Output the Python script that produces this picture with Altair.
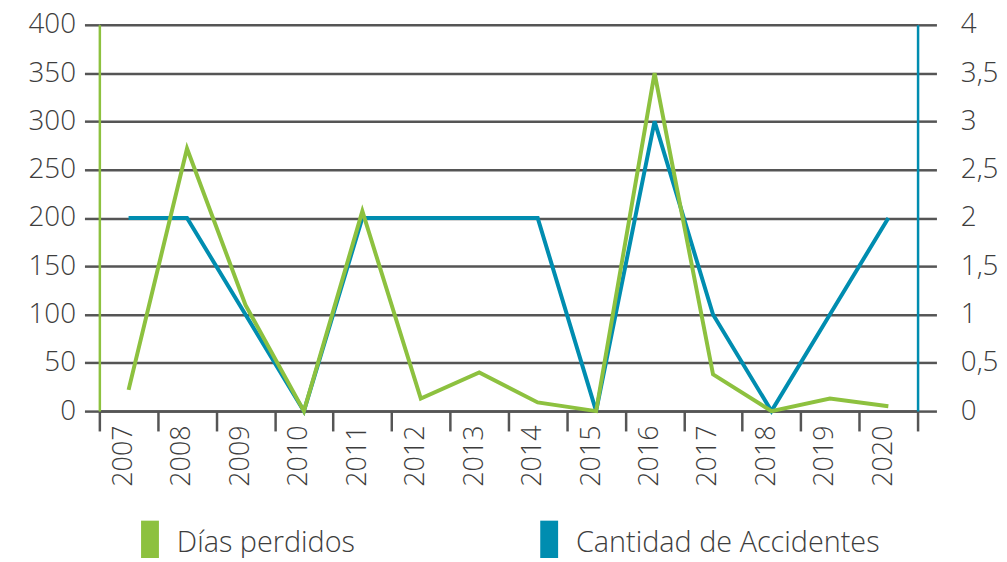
import altair as alt
import pandas as pd

years = ["2007", "2008", "2009", "2010", "2011", "2012", "2013",
         "2014", "2015", "2016", "2017", "2018", "2019", "2020"]
dias_perdidos = [22, 272, 110, 0, 207, 13, 40, 9, 0, 350, 38, 0, 13, 5]
accidentes = [2, 2, 1, 0, 2, 2, 2, 2, 0, 3, 1, 0, 1, 2]

left_ticks = [0, 50, 100, 150, 200, 250, 300, 350, 400]
right_ticks = [0, 0.5, 1, 1.5, 2, 2.5, 3, 3.5, 4]

series_names = ["Días perdidos", "Cantidad de Accidentes"]
GREEN = "#8DC13F"
BLUE = "#008DB0"
GRID = "#555555"
TEXT = "#3d3d3d"
FONT = "Open Sans"
WEIGHT = 300

df = pd.DataFrame({"year": years, "dias": dias_perdidos, "acc": accidentes})

x_enc = alt.X(
    "year:N",
    sort=years,
    scale=alt.Scale(paddingInner=0, paddingOuter=0),
    axis=alt.Axis(
        title=None,
        labelAngle=-90,
        labelFontSize=27,
        labelFontWeight=WEIGHT,
        labelColor=TEXT,
        labelFont=FONT,
        labelPadding=-6,
        labelOffset=-5,
        tickBand="extent",
        tickSize=20,
        tickColor=GRID,
        tickWidth=2.5,
        domainColor=GRID,
        domainWidth=2.5,
        grid=False,
    ),
)

color_scale = alt.Scale(domain=series_names, range=[GREEN, BLUE])

legend = alt.Legend(
    title=None,
    orient="none",
    legendX=24,
    legendY=495,
    direction="horizontal",
    symbolType="M0,-1.27V1.2",
    symbolSize=1296,
    symbolStrokeWidth=18,
    symbolOpacity=1,
    labelFontSize=29,
    labelFontWeight=WEIGHT,
    labelFont=FONT,
    labelColor=TEXT,
    labelOffset=0,
    columnPadding=159,
    labelLimit=400,
)

color_enc = alt.Color("serie:N", scale=color_scale, legend=legend)

green_line = alt.Chart(df).transform_calculate(
    serie=f"'{series_names[0]}'"
).mark_line(strokeWidth=4).encode(
    x=x_enc,
    y=alt.Y(
        "dias:Q",
        scale=alt.Scale(domain=[0, 400], nice=False),
        axis=alt.Axis(
            title=None,
            orient="left",
            values=left_ticks,
            labelFontSize=28,
            labelFontWeight=WEIGHT,
            labelFont=FONT,
            labelColor=TEXT,
            labelPadding=9,
            tickSize=15,
            tickColor=GRID,
            tickWidth=2.5,
            domainColor=GREEN,
            domainWidth=2.5,
            grid=True,
            gridColor=GRID,
            gridWidth=2.5,
        ),
    ),
    color=color_enc,
)

blue_line = alt.Chart(df).transform_calculate(
    serie=f"'{series_names[1]}'"
).mark_line(strokeWidth=4).encode(
    x=x_enc,
    y=alt.Y(
        "acc:Q",
        scale=alt.Scale(domain=[0, 4], nice=False),
        axis=alt.Axis(
            title=None,
            orient="right",
            values=right_ticks,
            labelExpr="replace(toString(datum.value), '.', ',')",
            labelFontSize=28,
            labelFontWeight=WEIGHT,
            labelFont=FONT,
            labelColor=TEXT,
            labelPadding=24,
            tickSize=19,
            tickColor=GRID,
            tickWidth=2.5,
            domainColor=BLUE,
            domainWidth=2.5,
            grid=False,
        ),
    ),
    color=color_enc,
)

chart = (
    alt.layer(blue_line, green_line)
    .resolve_scale(y="independent")
    .properties(
        width=824,
        height=389,
        autosize=alt.AutoSizeParams(type="none"),
        padding={"left": 92, "top": 15, "right": 82, "bottom": 146},
    )
    .configure_view(stroke=None)
    .configure(font=FONT)
)

chart.save("out.html", embed_options={"renderer": "svg", "actions": False})
